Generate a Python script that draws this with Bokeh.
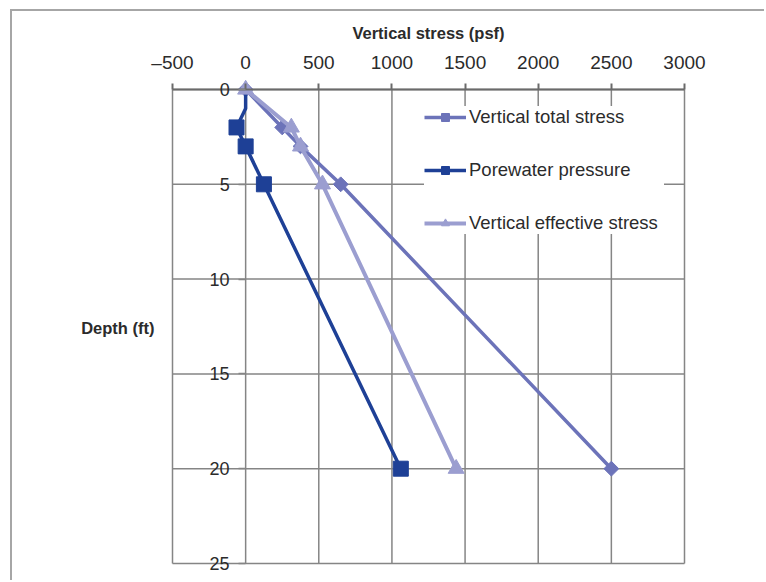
from bokeh.plotting import figure
from bokeh.models import (Range1d, FixedTicker, Legend, LegendItem, LinearAxis, Label)
from bokeh.embed import file_html
from bokeh.resources import INLINE
import math

# ---- data ----
depth = [0, 2, 3, 5, 20]
total_stress = [0, 250, 375, 650, 2500]
effective_stress = [0, 312.4, 375, 525.2, 1439.2]
pore_depth_line = [0, 1, 2, 3, 5, 20]
pore_pressure_line = [0, 0, -62.4, 0, 124.8, 1060.8]
pore_depth_marks = [2, 3, 5, 20]
pore_pressure_marks = [-62.4, 0, 124.8, 1060.8]

x_ticks = [-500, 0, 500, 1000, 1500, 2000, 2500, 3000]
x_tick_labels = ["\u2013500", "0", "500", "1000", "1500", "2000", "2500", "3000"]
y_ticks = [0, 5, 10, 15, 20, 25]
y_tick_labels = ["0", "5", "10", "15", "20", "25"]

C_TOTAL = "#6C73B9"
C_PORE = "#1E4096"
C_EFF = "#9B9ED0"
GRID = "#858585"
TXT = "#2b2b2b"
FONT = "Liberation Sans"

# canvas geometry (the plot area of the data occupies part of the canvas)
W, H = 754, 571
PX_LEFT, PX_RIGHT = 160, 672      # pixel columns of x = -500 and x = 3000
PX_TOP, PX_BOT = 78, 552          # pixel rows of depth 0 and depth 25
XMIN, XMAX = x_ticks[0], x_ticks[-1]
YMIN, YMAX = y_ticks[0], y_ticks[-1]
sx = (PX_RIGHT - PX_LEFT) / (XMAX - XMIN)
sy = (PX_BOT - PX_TOP) / (YMAX - YMIN)
x_range = Range1d(XMIN - PX_LEFT / sx, XMAX + (W - PX_RIGHT) / sx)
y_range = Range1d(YMAX + (H - PX_BOT) / sy, YMIN - PX_TOP / sy)

p = figure(width=W, height=H, output_backend="svg", toolbar_location=None,
           x_range=x_range, y_range=y_range,
           x_axis_location=None, y_axis_location=None,
           min_border=0)
p.styles = {"border-left": "2px solid #a6a6a6", "border-top": "2px solid #a6a6a6",
            "margin-left": "10px", "margin-top": "9px"}
p.outline_line_color = None
p.xgrid.visible = False
p.ygrid.visible = False

# grid lines limited to the plot area
p.segment(x0=x_ticks, y0=[YMIN] * len(x_ticks), x1=x_ticks, y1=[YMAX] * len(x_ticks),
          line_color=GRID, line_width=1.5)
p.segment(x0=[XMIN] * len(y_ticks), y0=y_ticks, x1=[XMAX] * len(y_ticks), y1=y_ticks,
          line_color=GRID, line_width=1.5)

# x axis crossing at depth 0 (labels above)
ax = LinearAxis(fixed_location=0, bounds=(XMIN, XMAX), ticker=FixedTicker(ticks=x_ticks),
                major_label_overrides={t: l for t, l in zip(x_ticks, x_tick_labels)})
ax.axis_label = "Vertical stress (psf)"
ax.axis_label_text_font = FONT
ax.axis_label_text_font_style = "bold"
ax.axis_label_text_font_size = "16.5px"
ax.axis_label_text_color = TXT
ax.axis_label_standoff = 7
ax.major_label_text_font = FONT
ax.major_label_text_font_size = "19px"
ax.major_label_text_color = TXT
ax.major_label_standoff = 11
ax.major_tick_out = 6
ax.major_tick_in = 0
ax.minor_tick_out = 0
ax.minor_tick_in = 0
ax.major_tick_line_color = "#6a6a6a"
ax.major_tick_line_width = 2
ax.axis_line_color = "#6a6a6a"
ax.axis_line_width = 2
p.add_layout(ax, "above")

# y axis crossing at x = 0 (tick labels)
yax = LinearAxis(fixed_location=0, bounds=(YMIN, YMAX), ticker=FixedTicker(ticks=y_ticks),
                 major_label_overrides={t: l for t, l in zip(y_ticks, y_tick_labels)})
yax.axis_line_color = None
yax.major_tick_out = 7
yax.major_tick_in = 0
yax.minor_tick_out = 0
yax.minor_tick_in = 0
yax.major_tick_line_color = GRID
yax.major_tick_line_width = 1.5
yax.major_label_standoff = 9
yax.major_label_text_font = FONT
yax.major_label_text_font_size = "18px"
yax.major_label_text_color = TXT
p.add_layout(yax, "left")

# y axis title (horizontal)
p.add_layout(Label(x=XMIN, y=12.6, text="Depth (ft)", x_offset=-18,
                   text_align="right", text_baseline="middle",
                   text_font=FONT, text_font_style="bold",
                   text_font_size="16.5px", text_color=TXT))

# series
l1 = p.line(total_stress, depth, line_color=C_TOTAL, line_width=3.5)
m1 = p.scatter(total_stress, depth, marker="square", angle=math.pi / 4,
               size=10.5, fill_color=C_TOTAL, line_color=C_TOTAL)

l2 = p.line(pore_pressure_line, pore_depth_line, line_color=C_PORE, line_width=3.5)
m2 = p.scatter(pore_pressure_marks, pore_depth_marks, marker="square",
               size=15, fill_color=C_PORE, line_color=C_PORE)

l3 = p.line(effective_stress, depth, line_color=C_EFF, line_width=4)
m3 = p.scatter(effective_stress, depth, marker="triangle",
               size=16, fill_color=C_EFF, line_color=C_EFF)

legend = Legend(items=[
    LegendItem(label="Vertical total stress", renderers=[l1, m1]),
    LegendItem(label="Porewater pressure", renderers=[l2, m2]),
    LegendItem(label="Vertical effective stress", renderers=[l3, m3]),
], location=(PX_LEFT + 252, H - PX_BOT + 329))
legend.glyph_width = 42
legend.glyph_height = 20
legend.label_height = 20
legend.label_width = 195
legend.label_standoff = 3
legend.spacing = 31
legend.padding = 11
legend.margin = 0
legend.border_line_color = None
legend.background_fill_color = "white"
legend.background_fill_alpha = 1
legend.label_text_font = FONT
legend.label_text_font_size = "18.5px"
legend.label_text_color = TXT
p.add_layout(legend)

open("out.html", "w").write(file_html(p, INLINE))
